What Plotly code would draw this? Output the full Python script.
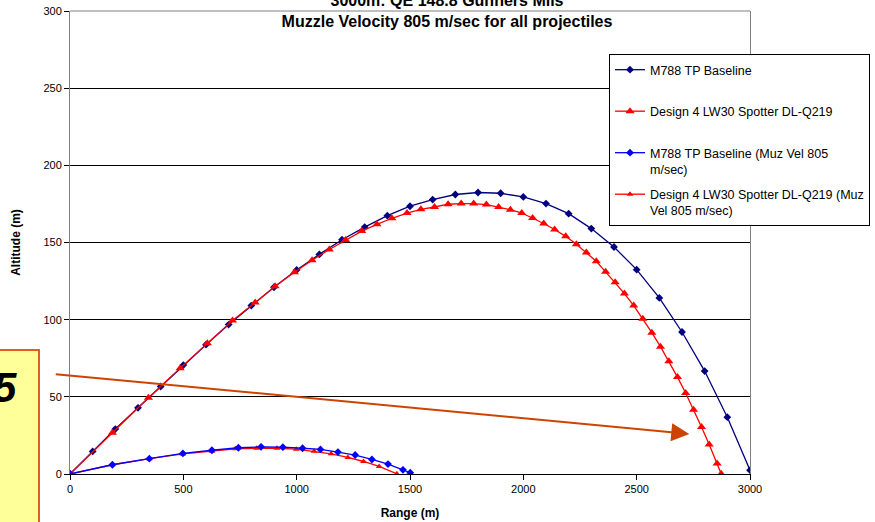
import plotly.graph_objects as go

# Trajectory data: range (m) and altitude (m)
range_m788 = [0, 100, 200, 300, 400, 500, 600, 700, 800, 900, 1000, 1100, 1200, 1300, 1400,
              1500, 1600, 1700, 1800, 1900, 2000, 2100, 2200, 2300, 2400, 2500, 2600, 2700,
              2800, 2900, 3000]
alt_m788 = [0, 14.6, 29.1, 42.9, 56.7, 70.6, 83.8, 96.8, 109.1, 121.0, 132.2, 142.3, 151.8,
            160.0, 167.4, 173.5, 177.8, 181.1, 182.4, 181.9, 179.5, 175.2, 168.7, 159.0,
            147.1, 132.4, 114.1, 92.0, 66.7, 36.8, 2.5]

range_d4 = [0, 187, 346, 486, 606, 717, 817, 905, 990, 1068, 1144, 1216, 1287, 1354, 1420,
            1487, 1548, 1608, 1668, 1726, 1781, 1837, 1891, 1943, 1993, 2041, 2090, 2138,
            2187, 2234, 2278, 2322, 2363, 2405, 2446, 2487, 2527, 2567, 2605, 2642, 2680,
            2716, 2751, 2786, 2820, 2855, 2873]
alt_d4 = [0, 26.7, 49.4, 68.6, 84.8, 99.5, 111.1, 121.6, 130.7, 138.5, 145.5, 151.6, 157.4,
          161.8, 165.7, 169.1, 171.5, 173.0, 174.8, 175.2, 175.2, 174.6, 173.0, 171.3, 169.1,
          165.9, 162.3, 158.4, 154.0, 148.8, 143.6, 137.8, 131.0, 124.2, 116.9, 109.1, 100.6,
          91.6, 82.5, 73.0, 62.8, 52.5, 41.7, 30.4, 19.1, 6.8, 0.1]

range_m788_mv = [0, 187, 350, 498, 626, 743, 843, 939, 1026, 1105, 1182, 1258, 1332, 1403,
                 1469, 1501]
alt_m788_mv = [0, 6.0, 9.9, 13.3, 15.4, 17.0, 17.6, 17.4, 16.7, 15.9, 14.2, 12.3, 9.4, 6.4,
               2.7, 0.8]

range_d4_mv = [0, 187, 350, 498, 626, 729, 824, 913, 998, 1077, 1152, 1226, 1295, 1364, 1442]
alt_d4_mv = [0, 6.0, 9.9, 13.0, 14.8, 16.3, 16.7, 16.7, 16.1, 14.8, 13.1, 10.7, 8.1, 4.9, 0.1]

# Legend labels; every entry takes two lines so the entries are evenly spaced
names = [
    "M788 TP Baseline<br> ",
    "Design 4 LW30 Spotter DL-Q219<br> ",
    "M788 TP Baseline (Muz Vel 805<br>m/sec)",
    "Design 4 LW30 Spotter DL-Q219 (Muz<br>Vel 805 m/sec)",
]

x_ticks = [0, 500, 1000, 1500, 2000, 2500, 3000]
y_ticks = [0, 50, 100, 150, 200, 250, 300]

FONT = "Liberation Sans, Arial, sans-serif"

fig = go.Figure()

fig.add_trace(go.Scatter(
    x=range_m788, y=alt_m788, name=names[0], mode="lines+markers",
    line=dict(color="#000080", width=1.3),
    marker=dict(symbol="diamond", size=6, color="#000080"),
    legendgroup="g1", legendrank=1))
fig.add_trace(go.Scatter(
    x=range_d4, y=alt_d4, name=names[1], mode="lines+markers",
    line=dict(color="#FF0000", width=1.3),
    marker=dict(symbol="triangle-up", size=8, color="#FF0000"),
    legendgroup="g2", legendrank=2))
fig.add_trace(go.Scatter(
    x=range_d4_mv, y=alt_d4_mv, name=names[3], mode="lines+markers",
    line=dict(color="#FF0000", width=1.3),
    marker=dict(symbol="triangle-up", size=6, color="#FF0000"),
    legendgroup="g4", legendrank=4))
fig.add_trace(go.Scatter(
    x=range_m788_mv, y=alt_m788_mv, name=names[2], mode="lines+markers",
    line=dict(color="#0000FF", width=1.3),
    marker=dict(symbol="diamond", size=6, color="#0000FF"),
    legendgroup="g3", legendrank=3))

# Top border of the plot frame
fig.add_shape(type="line", xref="paper", yref="paper", x0=0, x1=1, y0=1, y1=1,
              line=dict(color="#808080", width=1), layer="above")

# Yellow call-out box at the left edge
fig.add_shape(type="rect", xref="paper", yref="paper",
              x0=-0.115, x1=-0.0456, y0=0.268, y1=-0.25,
              fillcolor="#FFFF99", line=dict(color="#E0601A", width=2), layer="above")
fig.add_annotation(xref="paper", yref="paper", x=-0.075, y=0.186,
                   xanchor="right", yanchor="middle", text="<b><i>5</i></b>",
                   showarrow=False, font=dict(family=FONT, size=42, color="black"))

# Pointer arrow
fig.add_annotation(xref="paper", yref="paper", x=0.9107, y=0.0864, ax=-635, ay=-60,
                   text="", showarrow=True, arrowhead=2, arrowsize=1.8, arrowwidth=2,
                   arrowcolor="#CC4400")

fig.update_layout(
    width=875, height=522,
    margin=dict(l=70, r=125, t=11, b=48, autoexpand=False),
    paper_bgcolor="white", plot_bgcolor="white",
    font=dict(family=FONT, size=11, color="black"),
    title=dict(
        text="<b>3000m: QE 148.8 Gunners Mils<br>Muzzle Velocity 805 m/sec for all projectiles</b>",
        x=447 / 875, xanchor="center", xref="container",
        y=1 - 6 / 522, yanchor="bottom", yref="container", automargin=False,
        font=dict(family=FONT, size=16, color="black")),
    legend=dict(
        x=(609 - 70) / 680, y=0.907, xanchor="left", yanchor="top",
        bgcolor="white", bordercolor="black", borderwidth=1,
        font=dict(family=FONT, size=12.5, color="black"),
        tracegroupgap=6, valign="top", traceorder="grouped"),
    showlegend=True,
)

fig.update_xaxes(
    range=[0, 3000], tickvals=x_ticks, ticktext=[str(v) for v in x_ticks],
    showgrid=False, zeroline=False, automargin=False,
    showline=True, linecolor="black", linewidth=1,
    ticks="outside", ticklen=5, tickcolor="black",
    title=dict(text="<b>Range (m)</b>", font=dict(family=FONT, size=12), standoff=14),
)
fig.update_yaxes(
    range=[0, 300], tickvals=y_ticks, ticktext=[str(v) for v in y_ticks],
    showgrid=True, gridcolor="black", gridwidth=1, zeroline=False, automargin=False,
    showline=True, linecolor="#808080", linewidth=1, mirror=True,
    ticks="outside", ticklen=5, tickcolor="black",
    title=dict(text="<b>Altitude (m)</b>", font=dict(family=FONT, size=12), standoff=20),
)

fig.write_html("out.html")
